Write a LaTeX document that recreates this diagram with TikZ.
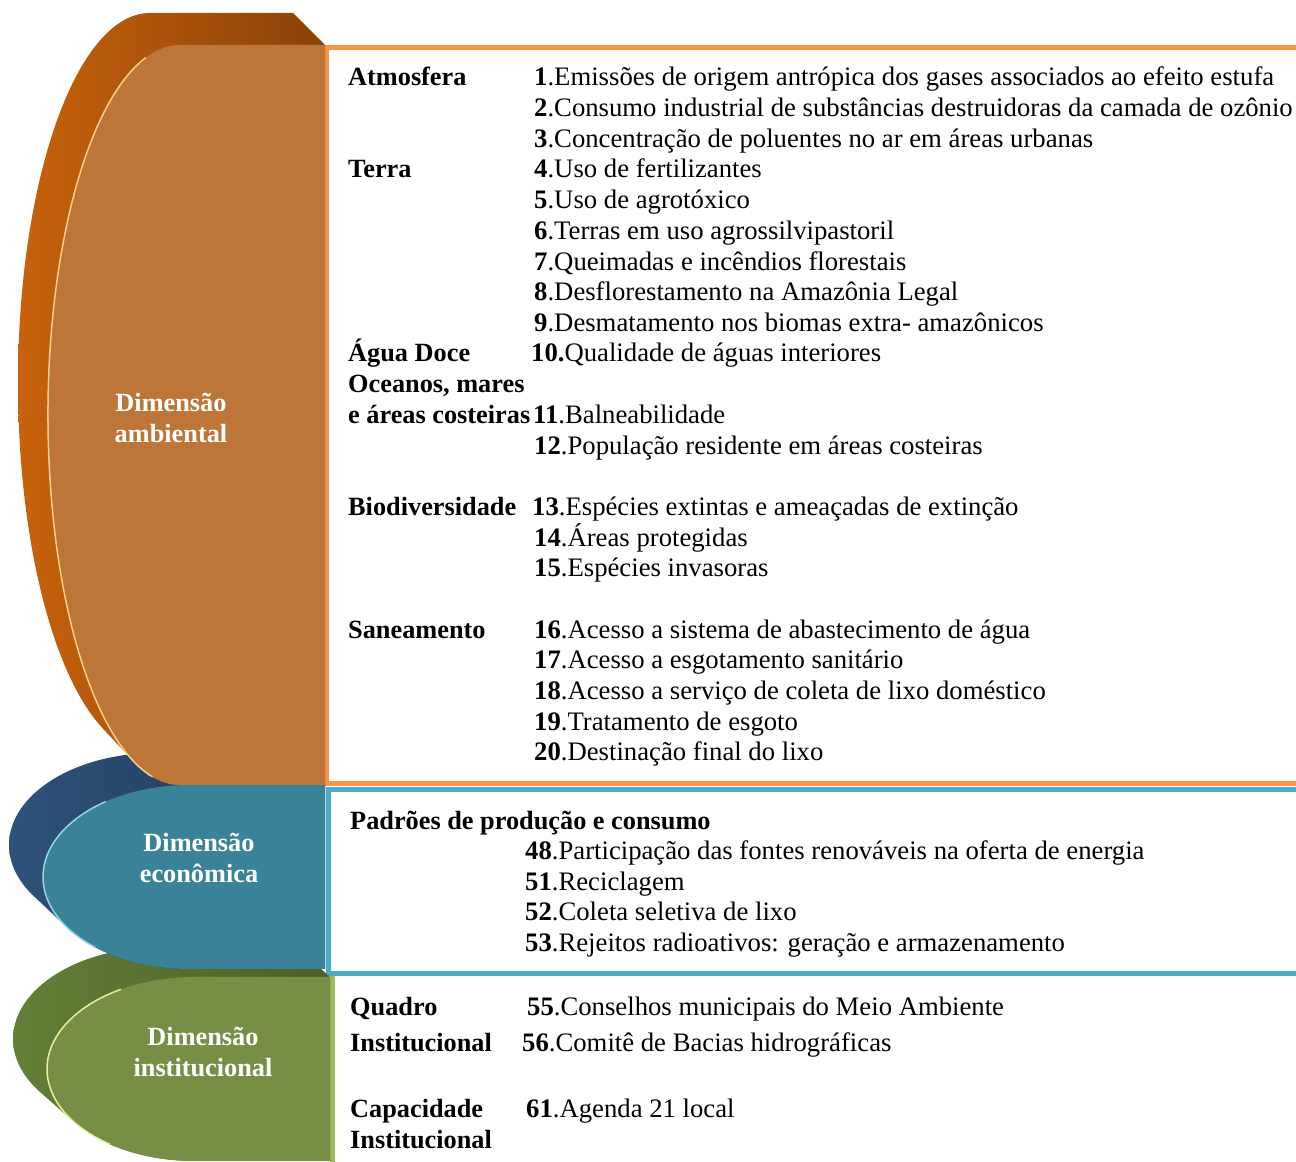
\documentclass[tikz,border=0pt]{standalone}
\usepackage{fontspec}
\setmainfont{Liberation Serif}
\usetikzlibrary{calc}

\definecolor{ambFront}{RGB}{190,117,56}
\definecolor{ambSideA}{RGB}{200,98,12}
\definecolor{ambSideB}{RGB}{138,66,8}
\definecolor{ambRim}{RGB}{250,208,135}
\definecolor{ambLine}{RGB}{247,150,70}
\definecolor{ecoFront}{RGB}{58,130,152}
\definecolor{ecoSideA}{RGB}{46,82,124}
\definecolor{ecoSideB}{RGB}{33,54,82}
\definecolor{ecoRim}{RGB}{150,212,234}
\definecolor{ecoLine}{RGB}{75,172,198}
\definecolor{insFront}{RGB}{119,142,69}
\definecolor{insSideA}{RGB}{98,128,56}
\definecolor{insSideB}{RGB}{74,95,38}
\definecolor{insRim}{RGB}{230,238,160}
\definecolor{insLine}{RGB}{155,187,89}

\tikzset{
  cat/.style={anchor=base west, inner sep=0pt, font=\fontsize{26.3}{31}\selectfont\bfseries},
  item/.style={anchor=base west, inner sep=0pt, font=\fontsize{26.7}{31}\selectfont},
  dimlabel/.style={anchor=base, inner sep=0pt, text=white, font=\fontsize{26.3}{31}\selectfont\bfseries},
  rim/.style={line width=1.5pt}
}

\begin{document}
\begin{tikzpicture}[x=1pt, y=1pt]
			%%%%% START %%%%%
			\useasboundingbox (0,0) rectangle (1296,1162);
			
			\draw[ambLine, line width=5pt] (326.5,378) rectangle (1310,1114);
			\draw[ecoLine, line width=5pt] (328,188) rectangle (1310,372.5);
			\draw[insLine, line width=5pt] (332.5,-5) -- (332.5,186);
			
			\coordinate (insC) at (195,93);
			\coordinate (ecoC) at (190,285);
			\coordinate (ambC) at (180,747);
			
			% institucional
			\shade[left color=insSideA, right color=insSideB] (161,215) arc[start angle=90, end angle=215.2, x radius=148pt, y radius=92pt] -- ++(34,-30) arc[start angle=215.2, end angle=270, x radius=148pt, y radius=92pt] -- (330,1) -- (330,185) -- (296,215) -- cycle;
			\fill[insFront] (330,185) -- (195,185) arc[start angle=90, end angle=270, x radius=148pt, y radius=92pt] -- (330,1) -- cycle;
			\draw[insRim, rim] ($(insC)+(120:148pt and 92pt)$) arc[start angle=120, end angle=235, x radius=148pt, y radius=92pt];
			
			% economica
			\shade[left color=ecoSideA, right color=ecoSideB] (156,409) arc[start angle=90, end angle=213.6, x radius=147pt, y radius=92pt] -- ++(34,-32) arc[start angle=213.6, end angle=270, x radius=147pt, y radius=92pt] -- (325,193) -- (325,377) -- (291,409) -- cycle;
			\fill[ecoFront] (325,377) -- (190,377) arc[start angle=90, end angle=270, x radius=147pt, y radius=92pt] -- (325,193) -- cycle;
			\draw[ecoRim, rim] ($(ecoC)+(125:147pt and 92pt)$) arc[start angle=125, end angle=230, x radius=147pt, y radius=92pt];
			
			% ambiental
			\shade[left color=ambSideA, right color=ambSideB] (150,1149) arc[start angle=90, end angle=249.2, x radius=132pt, y radius=370pt] -- ++(30,-32) arc[start angle=249.2, end angle=270, x radius=132pt, y radius=370pt] -- (325,377) -- (325,1117) -- (293,1149) -- cycle;
			\fill[ambFront] (325,1117) -- (180,1117) arc[start angle=90, end angle=270, x radius=132pt, y radius=370pt] -- (325,377) -- cycle;
			\draw[ambRim, rim] ($(ambC)+(105:132pt and 370pt)$) arc[start angle=105, end angle=258, x radius=132pt, y radius=370pt];
			
			\node[dimlabel] (dimA1) at (171,750) {Dimensão};
			\node[dimlabel] (dimA2) at (171,719) {ambiental};
			\node[dimlabel] (dimE1) at (199,310) {Dimensão};
			\node[dimlabel] (dimE2) at (199,279) {econômica};
			\node[dimlabel] (dimI1) at (203,116) {Dimensão};
			\node[dimlabel] (dimI2) at (203,85) {institucional};
			
			% ambiental texts
			\node[cat] (atm) at (348,1076) {Atmosfera};
			\node[cat] (terra) at (348,984) {Terra};
			\node[cat] (agua) at (348,800) {Água Doce};
			\node[cat] (ocean) at (348,769.2) {Oceanos, mares};
			\node[cat] (costa) at (348,738.5) {e áreas costeiras};
			\node[cat] (bio) at (348,646.5) {Biodiversidade};
			\node[cat] (sanea) at (348,523.8) {Saneamento};
			
			\node[item] (i1) at (534,1076) {\textbf{1}.Emissões de origem antrópica dos gases associados ao efeito estufa};
			\node[item] (i2) at (534,1045.3) {\textbf{2}.Consumo industrial de substâncias destruidoras da camada de ozônio};
			\node[item] (i3) at (534,1014.6) {\textbf{3}.Concentração de poluentes no ar em áreas urbanas};
			\node[item] (i4) at (534,984) {\textbf{4}.Uso de fertilizantes};
			\node[item] (i5) at (534,953.3) {\textbf{5}.Uso de agrotóxico};
			\node[item] (i6) at (534,922.6) {\textbf{6}.Terras em uso agrossilvipastoril};
			\node[item] (i7) at (534,891.9) {\textbf{7}.Queimadas e incêndios florestais};
			\node[item] (i8) at (534,861.2) {\textbf{8}.Desflorestamento na Amazônia Legal};
			\node[item] (i9) at (534,830.6) {\textbf{9}.Desmatamento nos biomas extra- amazônicos};
			\node[item] (i10) at (531,800) {\textbf{10.}Qualidade de águas interiores};
			\node[item] (i11) at (533,738.5) {\textbf{11}.Balneabilidade};
			\node[item] (i12) at (534,707.8) {\textbf{12}.População residente em áreas costeiras};
			\node[item] (i13) at (532,646.5) {\textbf{13}.Espécies extintas e ameaçadas de extinção};
			\node[item] (i14) at (534,615.8) {\textbf{14}.Áreas protegidas};
			\node[item] (i15) at (534,585.1) {\textbf{15}.Espécies invasoras};
			\node[item] (i16) at (534,523.8) {\textbf{16}.Acesso a sistema de abastecimento de água};
			\node[item] (i17) at (534,493.1) {\textbf{17}.Acesso a esgotamento sanitário};
			\node[item] (i18) at (534,462.4) {\textbf{18}.Acesso a serviço de coleta de lixo doméstico};
			\node[item] (i19) at (534,431.7) {\textbf{19}.Tratamento de esgoto};
			\node[item] (i20) at (534,401) {\textbf{20}.Destinação final do lixo};
			
			% economica texts
			\node[cat] (padroes) at (350,332) {Padrões de produção e consumo};
			\node[item] (i48) at (525,302) {\textbf{48}.Participação das fontes renováveis na oferta de energia};
			\node[item] (i51) at (525,271) {\textbf{51}.Reciclagem};
			\node[item] (i52) at (525,241) {\textbf{52}.Coleta seletiva de lixo};
			\node[item] (i53) at (525,210) {\textbf{53}.Rejeitos radioativos: geração e armazenamento};
			
			% institucional texts
			\node[cat] (quadro) at (350,146) {Quadro};
			\node[cat] (instA) at (350,110) {Institucional};
			\node[cat] (capac) at (350,44) {Capacidade};
			\node[cat] (instB) at (350,13) {Institucional};
			\node[item] (i55) at (527,146) {\textbf{55}.Conselhos municipais do Meio Ambiente};
			\node[item] (i56) at (522,110) {\textbf{56}.Comitê de Bacias hidrográficas};
			\node[item] (i61) at (526,44) {\textbf{61}.Agenda 21 local};
			%%%%% END %%%%%
\end{tikzpicture}
\end{document}
